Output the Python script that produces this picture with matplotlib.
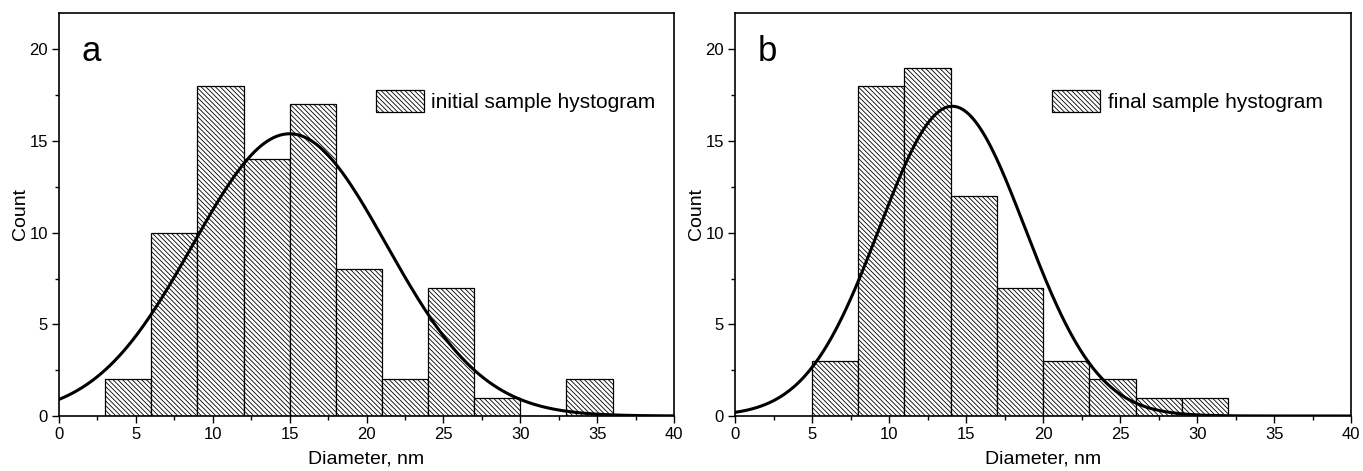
import numpy as np
import matplotlib.pyplot as plt
from matplotlib.ticker import MultipleLocator

plt.rcParams['font.family'] = ['Liberation Sans', 'DejaVu Sans']
plt.rcParams['hatch.linewidth'] = 0.6
plt.rcParams['hatch.color'] = '#505050'

# panel a: initial sample
bin_left_a = [3, 6, 9, 12, 15, 18, 21, 24, 27, 30, 33]
count_a = [2, 10, 18, 14, 17, 8, 2, 7, 1, 0, 2]
fit_a = dict(amp=15.4, mu=15.0, sigma=6.3)

# panel b: final sample
bin_left_b = [5, 8, 11, 14, 17, 20, 23, 26, 29]
count_b = [3, 18, 19, 12, 7, 3, 2, 1, 1]
fit_b = dict(amp=16.9, mu=14.1, sigma=4.73)

bin_width = 3
letters = ['a', 'b']
legend_labels = ['initial sample hystogram', 'final sample hystogram']


def gauss(x, amp, mu, sigma):
    return amp * np.exp(-(x - mu) ** 2 / (2 * sigma ** 2))


fig = plt.figure(figsize=(13.63, 4.71), dpi=100)
ax1 = fig.add_axes([0.0433, 0.1168, 0.4512, 0.856])
ax2 = fig.add_axes([0.5393, 0.1168, 0.4520, 0.856])

panels = [(ax1, bin_left_a, count_a, fit_a), (ax2, bin_left_b, count_b, fit_b)]

for i, (ax, left, cnt, fit) in enumerate(panels):
    ax.bar(left, cnt, width=bin_width, align='edge', facecolor='white',
           edgecolor='black', linewidth=0.9, hatch='\\' * 7,
           label=legend_labels[i], zorder=2)
    x = np.linspace(0, 40, 400)
    ax.plot(x, gauss(x, **fit), color='black', linewidth=2.2, zorder=3)

    ax.set_xlim(0, 40)
    ax.set_ylim(0, 22)
    ax.xaxis.set_major_locator(MultipleLocator(5))
    ax.xaxis.set_minor_locator(MultipleLocator(2.5))
    ax.yaxis.set_major_locator(MultipleLocator(5))
    ax.yaxis.set_minor_locator(MultipleLocator(2.5))
    ax.tick_params(which='both', direction='out', top=False, right=False,
                   labelsize=12, width=1)
    ax.tick_params(which='major', length=5, pad=3)
    ax.tick_params(which='minor', length=3)
    for s in ax.spines.values():
        s.set_linewidth(1.2)

    ax.set_xlabel('Diameter, nm', fontsize=14, labelpad=6)
    ax.set_ylabel('Count', fontsize=14, labelpad=0)

    ax.text(0.037, 0.905, letters[i], transform=ax.transAxes,
            fontsize=25, va='center', ha='left')

    ax.legend(loc='center left', bbox_to_anchor=(0.515, 0.781), frameon=False,
              fontsize=15, handlelength=2.3, handleheight=1.2,
              handletextpad=0.35, borderpad=0, borderaxespad=0)

fig.savefig('out.png', dpi=100)
